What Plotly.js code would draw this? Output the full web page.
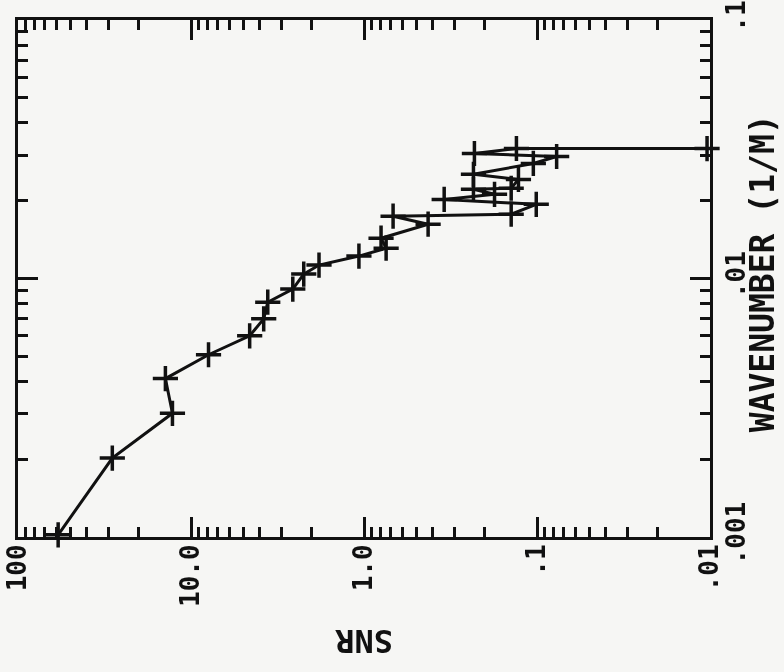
<!DOCTYPE html>
<html>
<head>
<meta charset="utf-8">
<script src="https://cdn.plot.ly/plotly-3.0.1.min.js"></script>
<style>html,body{margin:0;padding:0;background:#f6f6f4;}#chart{width:784px;height:672px;}</style>
</head>
<body>
<div id="chart"></div>
<script>
// Wavenumber (1/M) and SNR values, read from the (rotated) reference plot
var wavenumber = [0.00102, 0.00202, 0.00301, 0.0041, 0.00507, 0.0060, 0.00698, 0.0081, 0.0091, 0.0104,
                  0.01127, 0.01221, 0.0131, 0.01432, 0.01622, 0.01742, 0.01773, 0.01936, 0.02023, 0.02117,
                  0.02214, 0.02234, 0.02417, 0.0253, 0.02786, 0.02965, 0.03045, 0.03184, 0.0318];
var snr = [58.6, 28.5, 12.8, 14.06, 7.92, 4.58, 3.80, 3.60, 2.58, 2.23,
           1.82, 1.07, 0.745, 0.797, 0.426, 0.679, 0.141, 0.101, 0.344, 0.176,
           0.233, 0.141, 0.128, 0.233, 0.105, 0.077, 0.230, 0.1315, 0.0104];

var snrTickVals = [100, 10, 1, 0.1, 0.01];
var snrTickText = ["100", "10.0", "1.0", ".1", ".01"];
var wnTickVals = [0.001, 0.01, 0.1];
var wnTickText = [".001", ".01", ".1"];

// minor tick positions in log10 units (for the helper linear axes)
function minorLogVals(lo, hi) {
  var out = [];
  for (var d = lo; d < hi; d++) {
    for (var k = 2; k <= 9; k++) out.push(d + Math.log10(k));
  }
  return out;
}
function padLabels(arr) {
  var n = 0;
  arr.forEach(function (s) { n = Math.max(n, s.length); });
  return arr.map(function (s) {
    var p = "";
    for (var i = s.length; i < n; i++) p += "\u00A0";
    return p + s;
  });
}

var fontFam = "DejaVu Sans Mono, Liberation Mono, monospace";
var ink = "#111";
var bg = "#f6f6f4";

var trace = {
  x: snr, y: wavenumber, type: "scatter", mode: "lines+markers",
  line: {color: ink, width: 3},
  marker: {symbol: "cross-thin-open", size: 18, color: ink, line: {color: ink, width: 3.5}},
  cliponaxis: false, showlegend: false, hoverinfo: "skip"
};
// invisible helper trace so that the minor-tick axes (log10 units) are drawn
var ghost = {
  x: snr.map(Math.log10), y: wavenumber.map(Math.log10), xaxis: "x2", yaxis: "y2",
  type: "scatter", mode: "markers", opacity: 0, showlegend: false, hoverinfo: "skip"
};

var tickCommon = {
  ticks: "inside", tickwidth: 3, tickcolor: ink,
  showgrid: false, zeroline: false, mirror: "ticks"
};

var layout = {
  width: 784, height: 672,
  margin: {l: 18, r: 74, t: 20, b: 135},
  paper_bgcolor: bg, plot_bgcolor: bg,
  font: {family: fontFam, color: ink, size: 24, weight: "bold"},
  xaxis: Object.assign({}, tickCommon, {
    type: "log", range: [2, -2],
    tickmode: "array", tickvals: snrTickVals, ticktext: padLabels(snrTickText),
    tickangle: -90, ticklen: 20,
    showline: true, linewidth: 3, linecolor: ink,
    tickfont: {family: fontFam, size: 26, color: ink, weight: "bold"},
    ticklabelstandoff: -6
  }),
  yaxis: Object.assign({}, tickCommon, {
    type: "log", range: [-3, -1], side: "right",
    tickmode: "array", tickvals: wnTickVals, ticktext: wnTickText,
    tickangle: -90, ticklen: 20,
    showline: true, linewidth: 3, linecolor: ink,
    tickfont: {family: fontFam, size: 26, color: ink, weight: "bold"},
    ticklabelstandoff: 1
  }),
  xaxis2: Object.assign({}, tickCommon, {
    type: "linear", range: [2, -2], overlaying: "x", anchor: "y2", side: "bottom",
    tickmode: "array", tickvals: minorLogVals(-2, 2), ticklen: 10,
    showticklabels: false, showline: false
  }),
  yaxis2: Object.assign({}, tickCommon, {
    type: "linear", range: [-3, -1], overlaying: "y", anchor: "x2", side: "right",
    tickmode: "array", tickvals: minorLogVals(-3, -1), ticklen: 10,
    showticklabels: false, showline: false
  }),
  annotations: [{
    text: "SNR", xref: "paper", yref: "paper", x: 0.5, y: -0.2, textangle: 180,
    xanchor: "center", yanchor: "middle",
    showarrow: false, font: {family: fontFam, size: 32, color: ink, weight: "bold"}
  }, {
    text: "WAVENUMBER (1/M)", xref: "paper", yref: "paper", x: 1.075, y: 0.51, textangle: -90,
    xanchor: "center", yanchor: "middle",
    showarrow: false, font: {family: fontFam, size: 33, color: ink, weight: "bold"}
  }]
};

Plotly.newPlot("chart", [trace, ghost], layout, {displayModeBar: false, staticPlot: true});
</script>
</body>
</html>
